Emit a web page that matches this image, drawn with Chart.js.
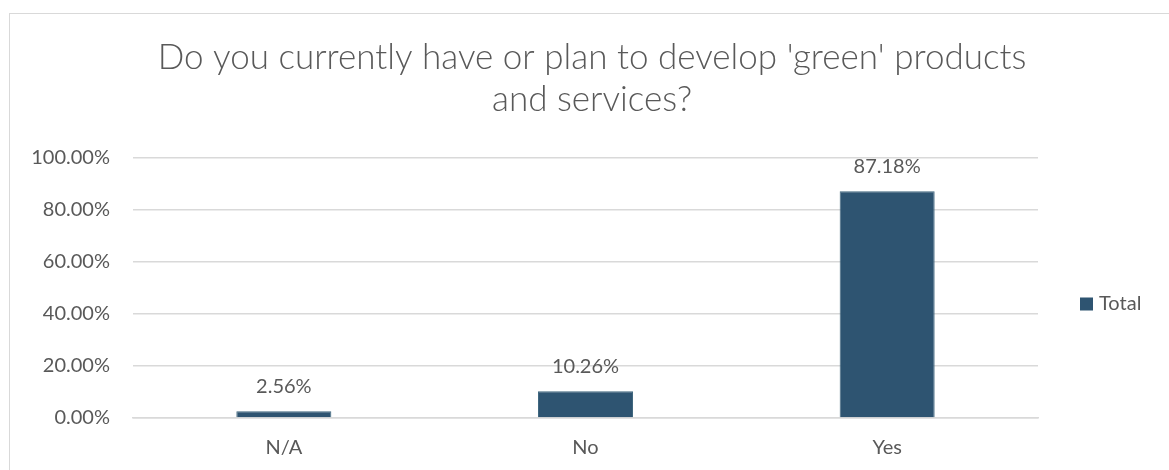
<!DOCTYPE html>
<html>
<head>
<meta charset="utf-8">
<script src="https://cdn.jsdelivr.net/npm/chart.js@4"></script>
<style>
  html, body { margin: 0; padding: 0; background: #fff; overflow: hidden; }
  .frame { position: absolute; left: 9px; top: 13px; width: 1200px; height: 500px; border: 1px solid #d9d9d9; }
  .chart-box { position: absolute; left: 0; top: 0; width: 1169px; height: 470px; }
</style>
</head>
<body>
<div class="frame"></div>
<div class="chart-box"><canvas id="chart"></canvas></div>
<script>
const categories = ['N/A', 'No', 'Yes'];
const totals = [2.56, 10.26, 87.18];
const yTicks = [0, 20, 40, 60, 80, 100];
const titleLines = ["Do you currently have or plan to develop 'green' products", 'and services?'];
const seriesName = 'Total';

const barColor = '#2e5471';
const textColor = '#595959';
const gridColor = '#d9d9d9';
const fontFamily = 'Lato, "Open Sans", sans-serif';

// two-line title, centred a bit right of the canvas middle like the original
const sheetTitle = {
    id: 'sheetTitle',
    afterDraw(chart) {
        const ctx = chart.ctx;
        ctx.save();
        ctx.fillStyle = textColor;
        ctx.font = '300 35px ' + fontFamily;
        ctx.textAlign = 'center';
        ctx.textBaseline = 'middle';
        titleLines.forEach((line, i) => ctx.fillText(line, 592, 58 + i * 42));
        ctx.restore();
    }
};

// labels above each bar, like the spreadsheet data labels
const valueLabels = {
    id: 'valueLabels',
    afterDatasetsDraw(chart) {
        const ctx = chart.ctx;
        const meta = chart.getDatasetMeta(0);
        ctx.save();
        ctx.fillStyle = textColor;
        ctx.font = '20px ' + fontFamily;
        ctx.textAlign = 'center';
        ctx.textBaseline = 'alphabetic';
        meta.data.forEach((bar, i) => {
            ctx.fillText(totals[i].toFixed(2) + '%', bar.x, bar.y - 18);
        });
        ctx.restore();
    }
};

// legend on the right, sitting in the space kept by layout padding
const sideLegend = {
    id: 'sideLegend',
    afterDraw(chart) {
        const ctx = chart.ctx;
        const area = chart.chartArea;
        const x = area.right + 42;
        const y = (area.top + area.bottom) / 2 + 16;
        ctx.save();
        ctx.fillStyle = barColor;
        ctx.fillRect(x, y - 6.5, 13, 13);
        ctx.fillStyle = textColor;
        ctx.font = '20px ' + fontFamily;
        ctx.textBaseline = 'middle';
        ctx.fillText(seriesName, x + 19, y);
        ctx.restore();
    }
};

const config = {
    type: 'bar',
    data: {
        labels: categories,
        datasets: [{
            label: seriesName,
            data: totals,
            backgroundColor: barColor,
            borderColor: '#41687f',
            borderWidth: 1,
            categoryPercentage: 0.315,
            barPercentage: 1
        }]
    },
    options: {
        responsive: false,
        animation: false,
        layout: { padding: { left: 0, right: 131, top: 158, bottom: 0 } },
        plugins: {
            title: { display: false },
            legend: { display: false },
            tooltip: { enabled: false }
        },
        scales: {
            x: {
                grid: { display: false },
                border: { color: gridColor, width: 1.5 },
                ticks: { color: textColor, font: { size: 20, family: fontFamily }, padding: 10 }
            },
            y: {
                min: 0,
                max: 100,
                afterFit(scale) { scale.width = 133; },
                afterBuildTicks(scale) { scale.ticks = yTicks.map(v => ({ value: v })); },
                grid: { color: gridColor, lineWidth: 1.5, drawTicks: false },
                border: { display: false },
                ticks: {
                    color: textColor,
                    font: { size: 20, family: fontFamily },
                    padding: 23,
                    callback: v => v.toFixed(2) + '%'
                }
            }
        }
    },
    plugins: [valueLabels, sheetTitle, sideLegend]
};

const canvas = document.getElementById('chart');
canvas.width = 1169;
canvas.height = 470;
new Chart(canvas, config);
</script>
</body>
</html>
